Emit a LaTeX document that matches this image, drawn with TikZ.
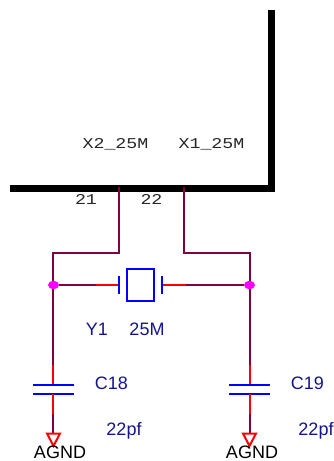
\documentclass[tikz,border=0pt]{standalone}
\usepackage{fontspec}
\setmainfont{Liberation Sans}
\newfontfamily\pinfont{Liberation Mono}
\usetikzlibrary{shapes.geometric}
\definecolor{wirecol}{RGB}{128,0,64}
\definecolor{partcol}{RGB}{20,20,140}
\definecolor{pincol}{RGB}{255,0,0}
\definecolor{platecol}{RGB}{0,0,255}
\definecolor{dotcol}{RGB}{255,0,255}
\tikzset{
    wire/.style={draw=wirecol,line width=2pt},
    pin/.style={draw=pincol,line width=2pt},
    plate/.style={draw=platecol,line width=2.2pt},
    body/.style={draw=black,line width=6.6pt},
    dot/.style={ellipse,fill=dotcol,inner sep=0pt,minimum width=11pt,minimum height=8.5pt},
    pinname/.style={inner sep=0pt,font=\pinfont\fontsize{15}{18}\selectfont,xscale=1.22,text=black!85},
    partname/.style={inner sep=0pt,font=\fontsize{18}{20}\selectfont,text=partcol},
    gndname/.style={inner sep=0pt,font=\fontsize{18}{20}\selectfont}
}
\begin{document}
\begin{tikzpicture}[x=1pt,y=-1pt]
    \useasboundingbox (0,0) rectangle (334,461);
    % chip outline
    \draw[body] (10,188.3) -- (271.7,188.3) -- (271.7,10);
    \node[pinname] (x2) at (115.5,144) {X2\_25M};
    \node[pinname] (x1) at (211.5,144) {X1\_25M};
    \node[pinname] (n21) at (86,199) {21};
    \node[pinname] (n22) at (151.5,199) {22};
    % nets
    \coordinate (p21) at (119,187);
    \coordinate (p22) at (184,187);
    \coordinate (wl) at (53,365);
    \coordinate (wr) at (250,365);
    \draw[wire] (p21) -- (119,253) -- (53,253) -- (wl);
    \draw[wire] (p22) -- (184,253) -- (250,253) -- (wr);
    \node[dot] (jl) at (53.5,285) {};
    \node[dot] (jr) at (249.5,285) {};
    % crystal
    \coordinate (ql) at (119.5,285);
    \coordinate (qr) at (162,285);
    \draw[wire] (jl) -- (96,285);
    \draw[wire] (jr) -- (186,285);
    \draw[pin] (96,285) -- (ql);
    \draw[pin] (186,285) -- (qr);
    \draw[plate] (119,276) -- (119,294);
    \draw[plate] (162.3,276) -- (162.3,294);
    \draw[plate] (127.3,269) rectangle (154,301);
    \node[partname] (y1) at (97,329) {Y1};
    \node[partname] (val) at (147,329) {25M};
    % left cap
    \draw[pin] (wl) -- (53,385);
    \draw[plate] (33,385) -- (74,385);
    \draw[plate] (33,393.7) -- (74,393.7);
    \draw[pin] (53,393.7) -- (53,414);
    \draw[wire] (53,414) -- (53,433);
    \draw[pin,line join=miter] (47,433.5) -- (60,433.5) -- (53.5,446) -- cycle;
    \node[partname] (c18) at (111.5,383.5) {C18};
    \node[partname] (v18) at (124,430.5) {22pf};
    \node[gndname] (g1) at (60,452) {AGND};
    % right cap
    \draw[pin] (wr) -- (250,385);
    \draw[plate] (229,385) -- (270,385);
    \draw[plate] (229,393.7) -- (270,393.7);
    \draw[pin] (250,393.7) -- (250,414);
    \draw[wire] (250,414) -- (250,433);
    \draw[pin,line join=miter] (243,433.5) -- (256,433.5) -- (249.5,446) -- cycle;
    \node[partname] (c19) at (307.5,383.5) {C19};
    \node[partname] (v19) at (316,430.5) {22pf};
    \node[gndname] (g2) at (252,452) {AGND};
\end{tikzpicture}
\end{document}
